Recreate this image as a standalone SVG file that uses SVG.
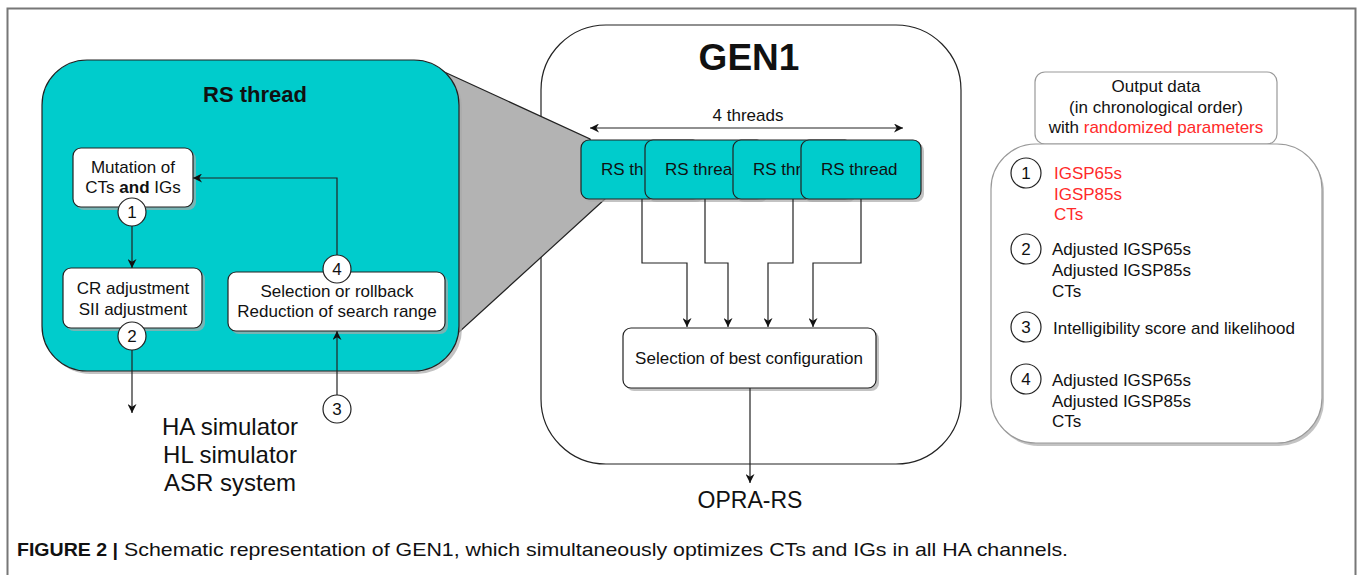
<svg xmlns="http://www.w3.org/2000/svg" width="1358" height="575" viewBox="0 0 1358 575">
<style>
text{font-family:"Liberation Sans",Arial,sans-serif;fill:#111;}
.t17{font-size:17px;}
.mid{text-anchor:middle;}
.box{fill:#fff;stroke:#222;stroke-width:1.2;}
.teal{fill:#00CCCC;stroke:#222;stroke-width:1.2;}
.shadow{fill:#aaa;opacity:0.7;}
.circ{fill:#fff;stroke:#222;stroke-width:1.2;}
.conn{fill:none;stroke:#222;stroke-width:1.2;}
.red{fill:#FF2A2A;}
</style>
<defs>
<marker id="arr" viewBox="0 0 10 10" refX="10" refY="5" markerWidth="9" markerHeight="9" markerUnits="userSpaceOnUse" orient="auto-start-reverse">
<path d="M0,0 L10,5 L0,10 L3,5 z" fill="#111"/>
</marker>
<clipPath id="c3"><rect x="733" y="140" width="67" height="60"/></clipPath>
</defs>
<rect width="1358" height="575" fill="#fff"/>
<path d="M7.5,575 V8.5 H1355.5 V575" fill="none" stroke="#777" stroke-width="2"/>

<g id="gen1">
<rect x="541" y="25" width="420" height="439" rx="65" fill="#fff" stroke="#222" stroke-width="1.2"/>
<text x="749" y="70" class="mid" style="font-size:37px;font-weight:bold">GEN1</text>
<text x="748" y="121" class="mid t17">4 threads</text>
</g>

<g id="zoom-wedge">
<polygon points="440,70 590,139 605,199 458,333" fill="#B3B3B3" stroke="#222" stroke-width="1.2"/>
</g>

<g id="rs-thread-detail">
<rect x="45" y="63" width="417" height="311" rx="45" class="shadow"/>
<rect x="42" y="60" width="417" height="311" rx="45" class="teal"/>
<text x="255" y="102" class="mid" style="font-size:22px;font-weight:bold">RS thread</text>
</g>

<g id="mutation">
<rect x="76" y="151" width="120" height="59" rx="8" class="shadow"/>
<rect x="73" y="148" width="120" height="59" rx="8" class="box"/>
<text x="133" y="173" class="mid t17">Mutation of</text>
<text x="133" y="193" class="mid t17">CTs <tspan font-weight="bold">and</tspan> IGs</text>
</g>

<g id="cr-adjust">
<rect x="66" y="271" width="139" height="60" rx="8" class="shadow"/>
<rect x="63" y="268" width="139" height="60" rx="8" class="box"/>
<text x="133" y="294" class="mid t17">CR adjustment</text>
<text x="133" y="315" class="mid t17">SII adjustment</text>
</g>

<g id="selection-rollback">
<rect x="231" y="275" width="217" height="59" rx="8" class="shadow"/>
<rect x="228" y="272" width="217" height="59" rx="8" class="box"/>
<text x="337" y="297" class="mid t17">Selection or rollback</text>
<text x="337" y="317" class="mid t17">Reduction of search range</text>
</g>

<g id="rs1">
<rect x="584" y="143" width="120" height="59" rx="8" class="shadow"/>
<rect x="581" y="140" width="120" height="59" rx="8" class="teal"/>
<text x="601" y="175" class="t17">RS th</text>
</g>
<g id="rs2">
<rect x="648" y="143" width="120" height="59" rx="8" class="shadow"/>
<rect x="645" y="140" width="120" height="59" rx="8" class="teal"/>
<text x="665" y="175" class="t17">RS threa</text>
</g>
<g id="rs3">
<rect x="736" y="143" width="120" height="59" rx="8" class="shadow"/>
<rect x="733" y="140" width="120" height="59" rx="8" class="teal"/>
<text x="753" y="175" class="t17" clip-path="url(#c3)">RS thr</text>
</g>
<g id="rs4">
<rect x="804" y="143" width="120" height="59" rx="8" class="shadow"/>
<rect x="801" y="140" width="120" height="59" rx="8" class="teal"/>
<text x="821" y="175" class="t17">RS thread</text>
</g>

<g id="best-config">
<rect x="626" y="331" width="253" height="60" rx="8" class="shadow"/>
<rect x="623" y="328" width="253" height="60" rx="8" class="box"/>
<text x="749" y="364" class="mid t17">Selection of best configuration</text>
</g>

<g id="connectors">
<line x1="590" y1="128" x2="903" y2="128" class="conn" marker-start="url(#arr)" marker-end="url(#arr)"/>
<path d="M642,199 V263 H687 V327" class="conn" marker-end="url(#arr)"/>
<path d="M705,199 V263 H728 V327" class="conn" marker-end="url(#arr)"/>
<path d="M793,199 V263 H768 V327" class="conn" marker-end="url(#arr)"/>
<path d="M861,199 V263 H813 V327" class="conn" marker-end="url(#arr)"/>
<line x1="750" y1="388" x2="750" y2="483" class="conn" marker-end="url(#arr)"/>
<line x1="132" y1="226" x2="132" y2="268" class="conn" marker-end="url(#arr)"/>
<line x1="132" y1="350" x2="132" y2="413" class="conn" marker-end="url(#arr)"/>
<path d="M337,255 V178 H193" class="conn" marker-end="url(#arr)"/>
<line x1="337" y1="395" x2="337" y2="331" class="conn" marker-end="url(#arr)"/>
</g>

<g id="step1"><circle cx="132" cy="212" r="14" class="circ"/><text x="132" y="218" class="mid t17">1</text></g>
<g id="step2"><circle cx="132" cy="336" r="14" class="circ"/><text x="132" y="342" class="mid t17">2</text></g>
<g id="step4"><circle cx="337" cy="269" r="14" class="circ"/><text x="337" y="275" class="mid t17">4</text></g>
<g id="step3"><circle cx="337" cy="409" r="14" class="circ"/><text x="337" y="415" class="mid t17">3</text></g>

<g id="simulators">
<text x="230" y="435" class="mid" style="font-size:24px">HA simulator</text>
<text x="230" y="463" class="mid" style="font-size:24px">HL simulator</text>
<text x="230" y="491" class="mid" style="font-size:24px">ASR system</text>
</g>

<g id="opra-rs">
<text x="750" y="508" class="mid" style="font-size:23px">OPRA-RS</text>
</g>

<g id="output-header">
<rect x="1035" y="72" width="242" height="72" rx="10" fill="#fff" stroke="#999" stroke-width="1.2"/>
<text x="1156" y="92" class="mid t17">Output data</text>
<text x="1156" y="113" class="mid t17">(in chronological order)</text>
<text x="1156" y="133" class="mid t17">with <tspan class="red">randomized parameters</tspan></text>
</g>

<g id="output-list">
<rect x="993" y="147" width="331" height="299" rx="45" fill="#aaa" opacity="0.7"/>
<rect x="991" y="144" width="331" height="299" rx="45" fill="#fff" stroke="#999" stroke-width="1.2"/>
<circle cx="1026" cy="173" r="15" class="circ"/><text x="1026" y="179" class="mid t17">1</text>
<text x="1054" y="179" class="t17 red">IGSP65s</text>
<text x="1054" y="200" class="t17 red">IGSP85s</text>
<text x="1054" y="220" class="t17 red">CTs</text>
<circle cx="1026" cy="249" r="15" class="circ"/><text x="1026" y="255" class="mid t17">2</text>
<text x="1052" y="255" class="t17">Adjusted IGSP65s</text>
<text x="1052" y="276" class="t17">Adjusted IGSP85s</text>
<text x="1052" y="297" class="t17">CTs</text>
<circle cx="1026" cy="327" r="15" class="circ"/><text x="1026" y="333" class="mid t17">3</text>
<text x="1053" y="334" class="t17">Intelligibility score and likelihood</text>
<circle cx="1026" cy="379" r="15" class="circ"/><text x="1026" y="385" class="mid t17">4</text>
<text x="1052" y="386" class="t17">Adjusted IGSP65s</text>
<text x="1052" y="407" class="t17">Adjusted IGSP85s</text>
<text x="1052" y="427" class="t17">CTs</text>
</g>

<g id="caption">
<text x="17" y="556" style="font-size:19px;font-weight:bold" textLength="101" lengthAdjust="spacingAndGlyphs">FIGURE 2 |</text>
<text x="124" y="556" style="font-size:19px" textLength="944" lengthAdjust="spacingAndGlyphs">Schematic representation of GEN1, which simultaneously optimizes CTs and IGs in all HA channels.</text>
</g>
</svg>
